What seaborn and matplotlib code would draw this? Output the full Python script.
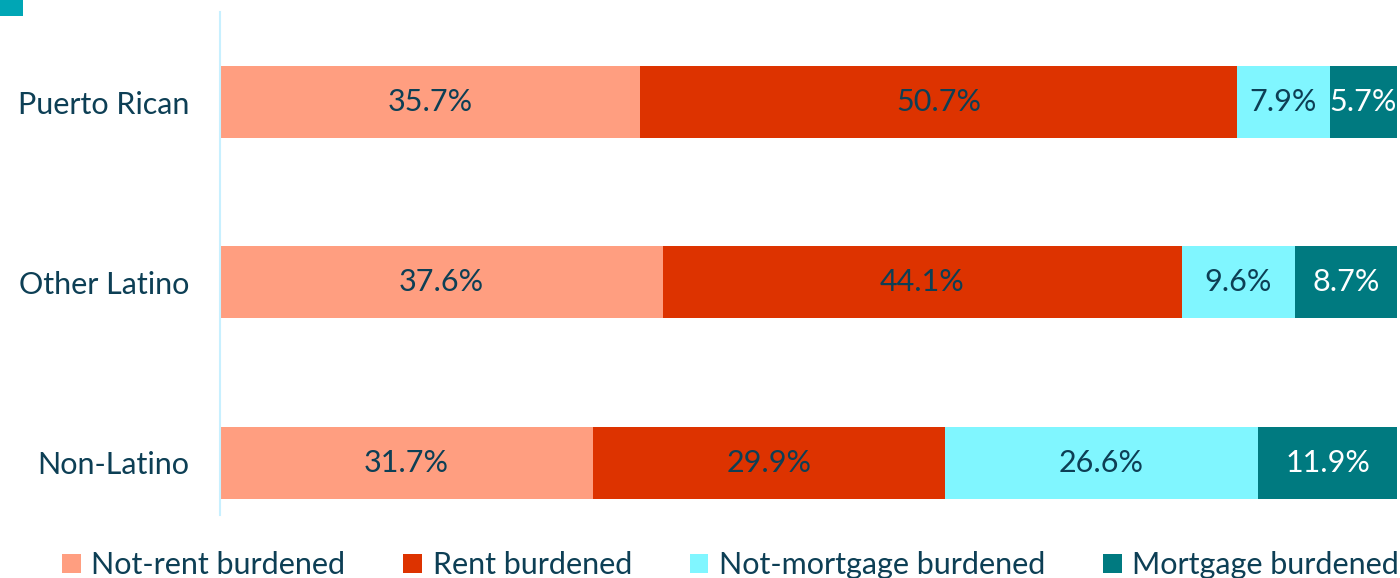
import numpy as np
import pandas as pd
import seaborn as sns
import matplotlib.pyplot as plt
from matplotlib.patches import Rectangle, Patch

# donnees
groups = ["Puerto Rican", "Other Latino", "Non-Latino"]
series = ["Not-rent burdened", "Rent burdened", "Not-mortgage burdened", "Mortgage burdened"]
not_rent = [35.7, 37.6, 31.7]
rent = [50.7, 44.1, 29.9]
not_mortgage = [7.9, 9.6, 26.6]
mortgage = [5.7, 8.7, 11.9]

colors = ["#FF9E80", "#DD3300", "#80F6FF", "#007A80"]
txt_colors = ["#0D3F55", "#0D3F55", "#0D3F55", "#FFFFFF"]
navy = "#0D3F55"

sns.set_theme(style="white")
plt.rcParams['font.family'] = ['Lato', 'DejaVu Sans']

vals = np.array([not_rent, rent, not_mortgage, mortgage])
cums = np.cumsum(vals, axis=0)

fig = plt.figure(figsize=(14, 5.78), dpi=100)
ax = fig.add_axes([220/1400, 1 - 515/578, 1177/1400, 503/578])

# empilement : on dessine les cumuls du plus grand au plus petit
for k in range(3, -1, -1):
    df = pd.DataFrame({"group": groups, "val": cums[k]})
    sns.barplot(data=df, x="val", y="group", orient="h", color=colors[k],
                width=0.4, saturation=1, ax=ax, linewidth=0)

for k in range(4):
    for j in range(3):
        ax.text(cums[k][j] - vals[k][j] / 2, j, f"{vals[k][j]:.1f}%",
                ha="center", va="center", fontsize=22, color=txt_colors[k])

ax.set_xlim(0, 100)
ax.set_ylim(2.29, -0.5)
ax.set_xlabel("")
ax.set_ylabel("")
ax.set_xticks([])
ax.tick_params(axis="y", length=0, labelsize=22, labelcolor=navy, pad=22)
for s in ["top", "right", "bottom"]:
    ax.spines[s].set_visible(False)
ax.spines["left"].set_color("#C8F0FF")
ax.spines["left"].set_linewidth(1.5)

handles = [Patch(facecolor=c, edgecolor="none") for c in colors]
leg = fig.legend(handles, series, loc="lower center", bbox_to_anchor=(0.522, -0.05),
                 ncol=4, frameon=False, fontsize=22, handlelength=0.6, handleheight=0.6,
                 columnspacing=1.9, handletextpad=0.35)
for t in leg.get_texts():
    t.set_color(navy)

fig.patches.append(Rectangle((0, 1 - 16/578), 23/1400, 16/578, transform=fig.transFigure,
                             facecolor="#00A6B5", edgecolor="none"))

fig.savefig("out.png", dpi=100)
